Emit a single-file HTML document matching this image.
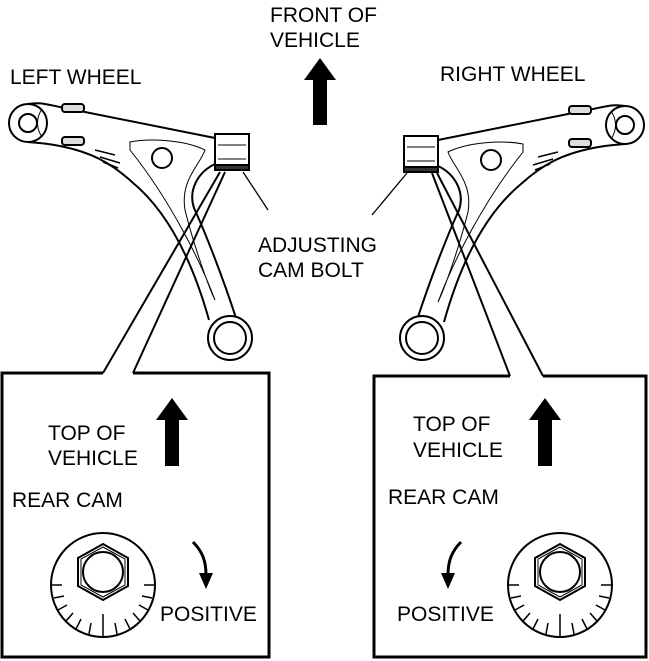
<!DOCTYPE html>
<html><head><style>
body{margin:0;background:#fff;}
svg{display:block;}
text{font-family:"Liberation Sans",sans-serif;font-size:21px;fill:#000;}
</style></head><body>
<svg width="649" height="661" viewBox="0 0 649 661" xmlns="http://www.w3.org/2000/svg">
<g fill="none" stroke="#000" stroke-width="2">
<g id="arm">
<path d="M28,104 C40,102 45,104 60,107 L215,138 M215,164 C198,172 188,190 194,208 C205,232 222,275 236,318 M209,320 C195,270 172,215 132,182 C110,162 90,152 60,146 C45,143 40,143 28,142" fill="#fff"/>
<circle cx="28" cy="123" r="19" fill="#fff"/>
<circle cx="28" cy="123" r="9"/>
<path d="M42,109 C36,118 36,128 42,137" stroke-width="1"/>
<rect x="62" y="104" width="22" height="8" rx="3" fill="#ddd"/>
<rect x="62" y="137" width="22" height="8" rx="3" fill="#ddd"/>
<path d="M95,150 L115,155 M100,157 L120,163 M103,162 L118,168" stroke-width="1.5"/>
<path d="M130,142 C150,138 185,140 205,150 C200,165 180,180 185,210 C195,250 210,290 215,300 C200,260 170,200 130,150 Z" stroke-width="1"/>
<circle cx="162" cy="158" r="10" fill="#fff"/>
<circle cx="230" cy="338" r="22" fill="#fff"/>
<circle cx="230" cy="338" r="16"/>
<rect x="215" y="134" width="34" height="36" fill="#fff"/>
<path d="M218,145 L246,145 M218,159 L246,159" stroke-width="1"/>
<rect x="215" y="165" width="34" height="5" fill="#333"/>
</g>
<line x1="243" y1="172" x2="268" y2="210" stroke-width="1.3"/>
<path d="M220,172 L103,373 M225,172 L133,373" stroke-width="2"/>
<g transform="translate(653,2) scale(-1,1)">
<path d="M28,104 C40,102 45,104 60,107 L215,138 M215,164 C198,172 188,190 194,208 C205,232 222,275 236,318 M209,320 C195,270 172,215 132,182 C110,162 90,152 60,146 C45,143 40,143 28,142" fill="#fff"/>
<circle cx="28" cy="123" r="19" fill="#fff"/>
<circle cx="28" cy="123" r="9"/>
<path d="M42,109 C36,118 36,128 42,137" stroke-width="1"/>
<rect x="62" y="104" width="22" height="8" rx="3" fill="#ddd"/>
<rect x="62" y="137" width="22" height="8" rx="3" fill="#ddd"/>
<path d="M95,150 L115,155 M100,157 L120,163 M103,162 L118,168" stroke-width="1.5"/>
<path d="M130,142 C150,138 185,140 205,150 C200,165 180,180 185,210 C195,250 210,290 215,300 C200,260 170,200 130,150 Z" stroke-width="1"/>
<circle cx="162" cy="158" r="10" fill="#fff"/>
<circle cx="231" cy="336" r="22" fill="#fff"/>
<circle cx="231" cy="336" r="16"/>
<rect x="215" y="134" width="34" height="36" fill="#fff"/>
<path d="M218,145 L246,145 M218,159 L246,159" stroke-width="1"/>
<rect x="215" y="165" width="34" height="5" fill="#333"/>
</g>
<line x1="407" y1="173" x2="372" y2="215" stroke-width="1.3"/>
<path d="M432,173 L510,376 M437,173 L543,376" stroke-width="2"/>
<path d="M103,373 L2,373 L2,657 L269,657 L269,373 L133,373" stroke-width="3"/>
<path d="M510,376 L374,376 L374,657 L646,657 L646,376 L543,376" stroke-width="3"/>
</g>
<polygon points="320,58 336,80 327,80 327,125 313,125 313,80 304,80" fill="#000"/>
<polygon points="172,398 188,420 179,420 179,466 165,466 165,420 156,420" fill="#000"/>
<polygon points="545,398 561,420 552,420 552,466 538,466 538,420 529,420" fill="#000"/>
<g id="cam" fill="none" stroke="#000" stroke-width="2">
<circle cx="103" cy="585" r="52"/>
<polygon points="103,544 128,558 128,586 103,600 78,586 78,558"/>
<polygon points="103,547 125,559 125,585 103,597 81,585 81,559" stroke-width="1"/>
<circle cx="103" cy="572" r="20"/>
<g stroke-width="1.5">
<line x1="52" y1="585" x2="62" y2="585"/><line x1="144" y1="585" x2="154" y2="585"/>
<line x1="54" y1="598" x2="64" y2="596"/><line x1="142" y1="596" x2="152" y2="598"/>
<line x1="58" y1="610" x2="67" y2="605"/><line x1="139" y1="605" x2="148" y2="610"/>
<line x1="66" y1="621" x2="73" y2="613"/><line x1="133" y1="613" x2="140" y2="621"/>
<line x1="76" y1="629" x2="81" y2="619"/><line x1="125" y1="619" x2="130" y2="629"/>
<line x1="89" y1="634" x2="91" y2="623"/><line x1="115" y1="623" x2="117" y2="634"/>
<line x1="103" y1="614" x2="103" y2="637"/>
</g>
</g>
<use href="#cam" transform="translate(457,0)"/>
<path d="M193,542 C203,552 206,562 206,575" fill="none" stroke="#000" stroke-width="3"/>
<polygon points="199,573 213,573 206,589" fill="#000"/>
<path d="M461,542 C451,552 448,562 448,575" fill="none" stroke="#000" stroke-width="3"/>
<polygon points="441,573 455,573 448,589" fill="#000"/>
<text x="270" y="22">FRONT OF</text>
<text x="270" y="47">VEHICLE</text>
<text x="10" y="84">LEFT WHEEL</text>
<text x="440" y="81">RIGHT WHEEL</text>
<text x="258" y="252">ADJUSTING</text>
<text x="258" y="277">CAM BOLT</text>
<text x="48" y="440">TOP OF</text>
<text x="48" y="465">VEHICLE</text>
<text x="12" y="507">REAR CAM</text>
<text x="160" y="621">POSITIVE</text>
<text x="413" y="431">TOP OF</text>
<text x="413" y="457">VEHICLE</text>
<text x="388" y="504">REAR CAM</text>
<text x="397" y="621">POSITIVE</text>
</svg>
</body></html>
